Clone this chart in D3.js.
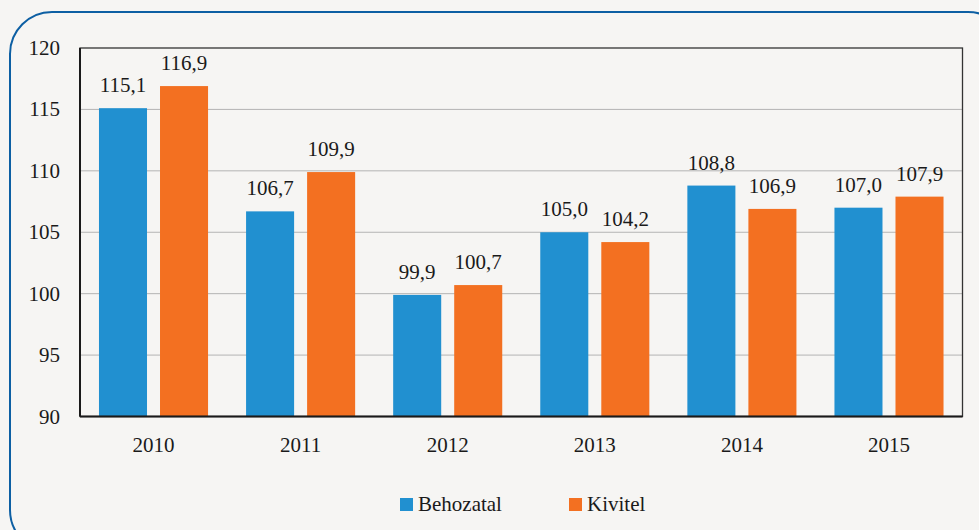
<!DOCTYPE html>
<html>
<head>
<meta charset="utf-8">
<script src="https://cdn.jsdelivr.net/npm/d3@7"></script>
<style>
  body { margin: 0; background: #f6f5f3; }
</style>
</head>
<body>
<div id="chart"></div>
<script>
var width = 979;
var height = 530;

var years = ["2010", "2011", "2012", "2013", "2014", "2015"];
var seriesNames = ["Behozatal", "Kivitel"];
var behozatal = [115.1, 106.7, 99.9, 105.0, 108.8, 107.0];
var kivitel = [116.9, 109.9, 100.7, 104.2, 106.9, 107.9];
var yTicks = [90, 95, 100, 105, 110, 115, 120];
var colors = ["#2190d0", "#f37021"];
var fontFam = "Liberation Serif";

var svg = d3.select("#chart")
  .append("svg")
  .attr("width", width)
  .attr("height", height);

// outer rounded frame
svg.append("rect")
  .attr("x", 10).attr("y", 12)
  .attr("width", 1000).attr("height", 540)
  .attr("rx", 42).attr("ry", 42)
  .attr("fill", "none")
  .attr("stroke", "#0d5fa3")
  .attr("stroke-width", 2);

var plot = { left: 80, top: 48, right: 962.5, bottom: 416.5 };

var x = d3.scaleBand()
  .domain(years)
  .range([plot.left, plot.right])
  .paddingInner(0.2585)
  .paddingOuter(0.129);

var x1 = d3.scaleBand()
  .domain(seriesNames)
  .range([0, x.bandwidth()])
  .paddingInner(0.213);

var y = d3.scaleLinear()
  .domain([90, 120])
  .range([plot.bottom, plot.top]);

// gridlines
svg.append("g")
  .selectAll("line")
  .data(yTicks.slice(1, -1))
  .enter()
  .append("line")
  .attr("x1", plot.left).attr("x2", plot.right)
  .attr("y1", function(d){ return y(d); })
  .attr("y2", function(d){ return y(d); })
  .attr("stroke", "#b4b4b4")
  .attr("stroke-width", 1);

// bars
var rows = years.map(function(yr, i){
  return { year: yr, values: [
    { name: seriesNames[0], value: behozatal[i] },
    { name: seriesNames[1], value: kivitel[i] }
  ]};
});

var groups = svg.append("g")
  .selectAll("g")
  .data(rows)
  .enter()
  .append("g")
  .attr("transform", function(d){ return "translate(" + x(d.year) + ",0)"; });

groups.selectAll("rect")
  .data(function(d){ return d.values; })
  .enter()
  .append("rect")
  .attr("x", function(d){ return x1(d.name); })
  .attr("width", x1.bandwidth())
  .attr("y", function(d){ return y(d.value); })
  .attr("height", function(d){ return y(90) - y(d.value); })
  .attr("fill", function(d, i){ return colors[i]; });

groups.selectAll("text")
  .data(function(d){ return d.values; })
  .enter()
  .append("text")
  .attr("x", function(d){ return x1(d.name) + x1.bandwidth() / 2; })
  .attr("y", function(d){ return y(d.value) - 16; })
  .attr("text-anchor", "middle")
  .attr("font-family", fontFam)
  .attr("font-size", 21)
  .attr("fill", "#1a1a1a")
  .text(function(d){ return d.value.toFixed(1).replace(".", ","); });

// plot frame
svg.append("rect")
  .attr("x", plot.left).attr("y", plot.top)
  .attr("width", plot.right - plot.left)
  .attr("height", plot.bottom - plot.top)
  .attr("fill", "none")
  .attr("stroke", "#333")
  .attr("stroke-width", 1.3);

svg.append("line")
  .attr("x1", plot.left).attr("x2", plot.right)
  .attr("y1", plot.bottom).attr("y2", plot.bottom)
  .attr("stroke", "#1a1a1a").attr("stroke-width", 2);
svg.append("line")
  .attr("x1", plot.left).attr("x2", plot.left)
  .attr("y1", plot.top).attr("y2", plot.bottom)
  .attr("stroke", "#1a1a1a").attr("stroke-width", 2);

// y tick labels
svg.append("g")
  .selectAll("text")
  .data(yTicks)
  .enter()
  .append("text")
  .attr("x", 60)
  .attr("y", function(d){ return y(d) + 7; })
  .attr("text-anchor", "end")
  .attr("font-family", fontFam)
  .attr("font-size", 21)
  .attr("fill", "#1a1a1a")
  .text(function(d){ return d; });

// x labels
svg.append("g")
  .selectAll("text")
  .data(years)
  .enter()
  .append("text")
  .attr("x", function(d){ return x(d) + x.bandwidth() / 2; })
  .attr("y", 452)
  .attr("text-anchor", "middle")
  .attr("font-family", fontFam)
  .attr("font-size", 21)
  .attr("fill", "#1a1a1a")
  .text(function(d){ return d; });

// legend
var legendX = [400, 569];
var legend = svg.append("g")
  .selectAll("g")
  .data(seriesNames)
  .enter()
  .append("g")
  .attr("transform", function(d, i){ return "translate(" + legendX[i] + ",498)"; });

legend.append("rect")
  .attr("width", 13).attr("height", 13)
  .attr("fill", function(d, i){ return colors[i]; });

legend.append("text")
  .attr("x", 18).attr("y", 13)
  .attr("font-family", fontFam)
  .attr("font-size", 21)
  .attr("fill", "#1a1a1a")
  .text(function(d){ return d; });
</script>
</body>
</html>
